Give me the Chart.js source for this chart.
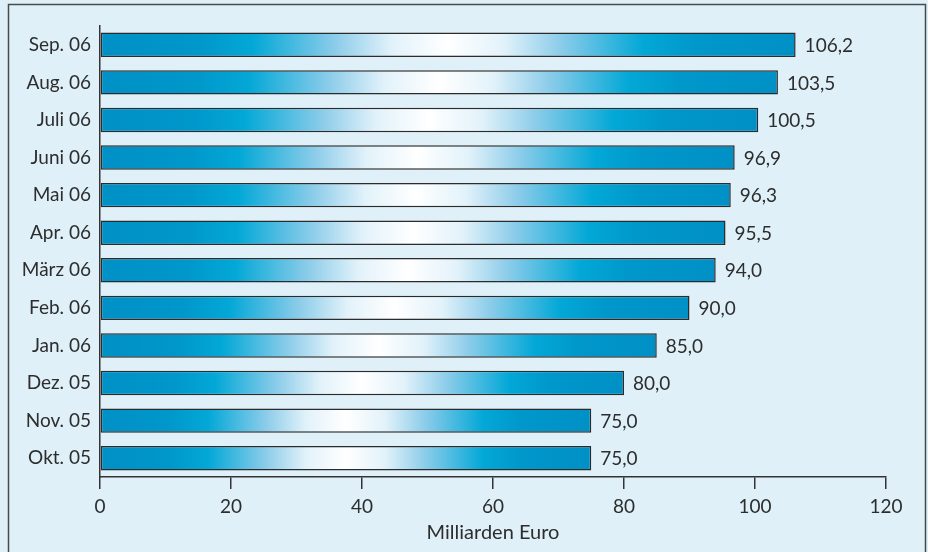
<!DOCTYPE html>
<html>
<head>
<meta charset="utf-8">
<script src="https://cdn.jsdelivr.net/npm/chart.js@4"></script>
<style>
html,body{margin:0;padding:0;background:#dff0f8;}
#wrap{width:928px;height:552px;position:relative;}
canvas{display:block;}
</style>
</head>
<body>
<div id="wrap"><canvas id="c" width="928" height="552"></canvas></div>
<script>
const categories = ["Okt. 05","Nov. 05","Dez. 05","Jan. 06","Feb. 06","März 06","Apr. 06","Mai 06","Juni 06","Juli 06","Aug. 06","Sep. 06"];
const values = [75.0, 75.0, 80.0, 85.0, 90.0, 94.0, 95.5, 96.3, 96.9, 100.5, 103.5, 106.2];
const xTicks = [0, 20, 40, 60, 80, 100, 120];
const axisTitle = "Milliarden Euro";

const FONT = "Lato";
const TEXT = "#2d2d2d";

function barGradient(context) {
  const chart = context.chart;
  if (!chart.chartArea) return "#0094c8";
  const xs = chart.scales.x;
  const x0 = xs.getPixelForValue(0);
  const x1 = xs.getPixelForValue(context.raw);
  const g = chart.ctx.createLinearGradient(x0, 0, x1, 0);
  g.addColorStop(0.00, "#0090c6");
  g.addColorStop(0.14, "#0097cb");
  g.addColorStop(0.22, "#03a8d7");
  g.addColorStop(0.34, "#8ecdea");
  g.addColorStop(0.42, "#e2f2fa");
  g.addColorStop(0.50, "#ffffff");
  g.addColorStop(0.58, "#e2f2fa");
  g.addColorStop(0.66, "#8ecdea");
  g.addColorStop(0.78, "#03a8d7");
  g.addColorStop(0.86, "#0097cb");
  g.addColorStop(1.00, "#0090c6");
  return g;
}

const bgPlugin = {
  id: "bg",
  beforeDraw(chart) {
    const c = chart.ctx;
    c.save();
    c.fillStyle = "#dff0f8";
    c.fillRect(0, 0, chart.width, chart.height);
    c.strokeStyle = "#4a4a4a";
    c.lineWidth = 1.5;
    c.beginPath();
    c.moveTo(8.5, 560);
    c.lineTo(8.5, 4.5);
    c.lineTo(925.5, 4.5);
    c.lineTo(925.5, 560);
    c.stroke();
    c.restore();
  }
};

const labelPlugin = {
  id: "vals",
  afterDatasetsDraw(chart) {
    const c = chart.ctx;
    const meta = chart.getDatasetMeta(0);
    c.save();
    c.font = "19px " + FONT;
    c.fillStyle = TEXT;
    c.textAlign = "left";
    c.textBaseline = "middle";
    meta.data.forEach((el, i) => {
      const txt = values[i].toFixed(1).replace(".", ",");
      c.fillText(txt, el.x + 9, el.y + 1);
    });
    c.restore();
  }
};

new Chart(document.getElementById("c"), {
  type: "bar",
  data: {
    labels: categories,
    datasets: [{
      data: values,
      backgroundColor: barGradient,
      borderColor: "#2b2b2b",
      borderWidth: 1.5,
      borderSkipped: false,
      barPercentage: 0.65,
      categoryPercentage: 1.0
    }]
  },
  options: {
    indexAxis: "y",
    responsive: false,
    animation: false,
    devicePixelRatio: 1,
    layout: { padding: { left: 0, right: 42, top: 26, bottom: 0 } },
    plugins: { legend: { display: false }, tooltip: { enabled: false } },
    scales: {
      x: {
        type: "linear",
        min: 0,
        max: 120,
        afterBuildTicks(scale) { scale.ticks = xTicks.map(v => ({ value: v })); },
        afterFit(scale) { scale.height = 75; },
        grid: { drawOnChartArea: false, drawTicks: true, tickLength: 12, color: "#333333", lineWidth: 1.5 },
        border: { display: true, color: "#333333", width: 1.5 },
        ticks: { color: TEXT, font: { family: FONT, size: 19 }, padding: 6, callback: v => String(v) },
        title: { display: true, text: axisTitle, color: TEXT, font: { family: FONT, size: 20 }, padding: { top: 0, bottom: 7 } }
      },
      y: {
        reverse: true,
        afterFit(scale) { scale.width = 100; },
        grid: { display: false, drawTicks: false },
        border: { display: true, color: "#333333", width: 1.5 },
        ticks: { color: TEXT, font: { family: FONT, size: 19 }, padding: 9 }
      }
    }
  },
  plugins: [bgPlugin, labelPlugin]
});
</script>
</body>
</html>
